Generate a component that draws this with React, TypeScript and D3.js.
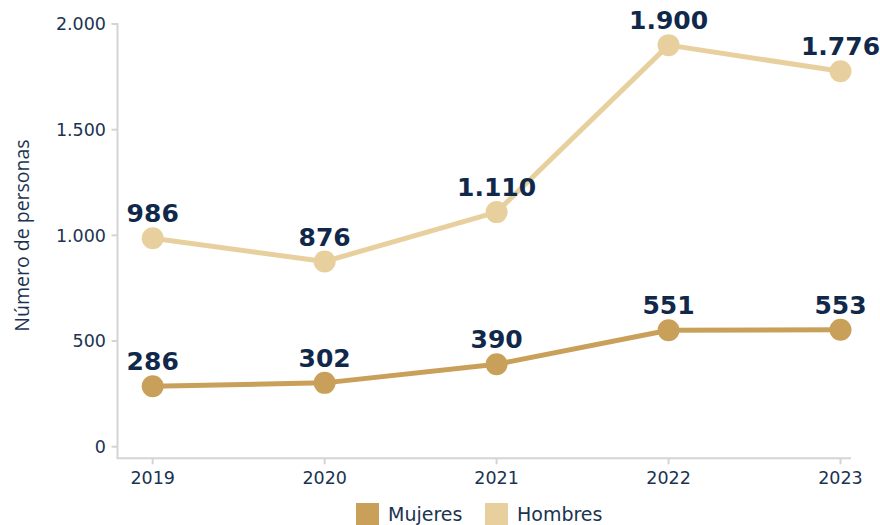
import React from "react";
import * as d3 from "d3";

const years = ["2019", "2020", "2021", "2022", "2023"];
const mujeres = [286, 302, 390, 551, 553];
const hombres = [986, 876, 1110, 1900, 1776];
const yTicks = [0, 500, 1000, 1500, 2000];
const seriesNames = ["Mujeres", "Hombres"];
const seriesColors = ["#C9A05A", "#E8D09E"];
const yTitle = "Número de personas";

const W = 880;
const H = 525;

const locale = d3.formatLocale({
  decimal: ",",
  thousands: ".",
  grouping: [3],
  currency: ["", "€"],
});
const fmt = locale.format(",d");

export default function App() {
  const x = d3.scalePoint<string>().domain(years).range([152.7, 840.5]);
  const y = d3.scaleLinear().domain([0, 2000]).range([446.7, 24]);
  const axisLeft = 117.5;
  const axisBottom = 458.3;
  const axisRight = 851;
  const textColor = "#1B3350";
  const labelColor = "#10294A";
  const gridColor = "#D4D4D4";

  const line = d3
    .line<number>()
    .x((_, i) => x(years[i]) as number)
    .y((d) => y(d));

  const series = [mujeres, hombres];

  return (
    <svg
      width={W}
      height={H}
      style={{ position: "absolute", left: 0, top: 0, background: "#fff" }}
    >
      {/* Y axis */}
      <line x1={axisLeft} x2={axisLeft} y1={y(2000) - 1} y2={axisBottom} stroke={gridColor} strokeWidth={2} />
      {yTicks.map((t) => (
        <g key={t}>
          <line x1={axisLeft - 6} x2={axisLeft} y1={y(t)} y2={y(t)} stroke={gridColor} strokeWidth={2} />
          <text
            x={106}
            y={y(t)}
            dy="0.36em"
            textAnchor="end"
            fontFamily="DejaVu Sans"
            fontSize={17.5}
            fill={textColor}
          >
            {fmt(t)}
          </text>
        </g>
      ))}
      {/* X axis */}
      <line x1={axisLeft - 1} x2={axisRight} y1={axisBottom} y2={axisBottom} stroke={gridColor} strokeWidth={2} />
      {years.map((yr) => (
        <g key={yr}>
          <line x1={x(yr)} x2={x(yr)} y1={axisBottom} y2={axisBottom + 6} stroke={gridColor} strokeWidth={2} />
          <text
            x={x(yr)}
            y={484}
            textAnchor="middle"
            fontFamily="DejaVu Sans"
            fontSize={17.5}
            fill={textColor}
          >
            {yr}
          </text>
        </g>
      ))}
      {/* Y title */}
      <text
        transform={`translate(29,${235.5}) rotate(-90)`}
        textAnchor="middle"
        fontFamily="Open Sans"
        fontSize={19.5}
        fill={textColor}
      >
        {yTitle}
      </text>

      {/* Lines */}
      {[1, 0].map((si) => (
        <path
          key={"l" + si}
          d={line(series[si]) || ""}
          fill="none"
          stroke={seriesColors[si]}
          strokeWidth={5}
          strokeLinejoin="round"
        />
      ))}
      {[1, 0].map((si) =>
        series[si].map((v, i) => (
          <circle
            key={"c" + si + i}
            cx={x(years[i])}
            cy={y(v)}
            r={11}
            fill={seriesColors[si]}
          />
        ))
      )}
      {[1, 0].map((si) =>
        series[si].map((v, i) => (
          <text
            key={"t" + si + i}
            x={x(years[i])}
            y={y(v) - 16}
            textAnchor="middle"
            fontFamily="DejaVu Sans"
            fontWeight="bold"
            fontSize={25}
            fill={labelColor}
          >
            {fmt(v)}
          </text>
        ))
      )}

      {/* Legend */}
      {seriesNames.map((name, i) => {
        const lx = [356, 485][i];
        return (
          <g key={name}>
            <rect x={lx} y={503} width={23} height={23} fill={seriesColors[i]} />
            <text
              x={lx + 32}
              y={521}
              fontFamily="DejaVu Sans"
              fontSize={19}
              fill={textColor}
            >
              {name}
            </text>
          </g>
        );
      })}
    </svg>
  );
}
